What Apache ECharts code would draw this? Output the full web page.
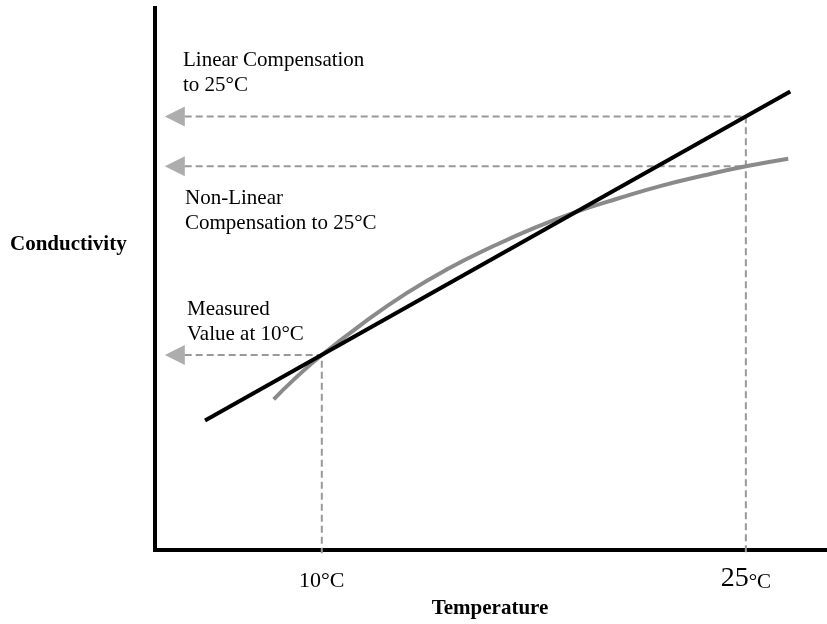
<!DOCTYPE html>
<html>
<head>
<meta charset="utf-8">
<script src="https://cdn.jsdelivr.net/npm/echarts@6/dist/echarts.min.js"></script>
<style>
html,body{margin:0;padding:0;background:#fff;}
#chart{width:827px;height:624px;}
</style>
</head>
<body>
<div id="chart"></div>
<script>
// ---- data ----
const tickValues = [10, 25];
const tickLabels = ['10°C', '25°C'];
const linearT = [5.87, 26.57];
const linearC = [23.9, 84.6];
const curveT = [8.3, 9, 10, 11.5, 13, 14.5, 16, 17.5, 19, 20.5, 22, 23.5, 25, 26.5];
const curveC = [27.8, 31.4, 36, 42.0, 47.4, 52.0, 55.9, 59.4, 62.4, 64.9, 67.2, 69.1, 70.8, 72.2];
const measuredT = 10;
const referenceT = 25;
const measuredC = 36;
const linearAtRef = 80;
const nonLinearAtRef = 70.8;
const annotationTexts = ['Linear Compensation\nto 25°C', 'Non-Linear\nCompensation to 25°C', 'Measured\nValue at 10°C'];

// guide anchor (arrow location, in temperature units)
const arrowT = 4.8;
const guideStartT = 5.15;
const axisBottomC = -0.6;

const chart = echarts.init(document.getElementById('chart'));
const grey = '#999999';
const font = '"Liberation Serif", "Times New Roman", serif';

const dashed = { color: grey, width: 2, type: [7, 4] };
function guide(data) {
  return { type: 'line', data: data, symbol: 'none', clip: false, silent: true,
    lineStyle: dashed, z: 2 };
}

const option = {
  animation: false,
  backgroundColor: '#fff',
  grid: { left: 155, right: 2, top: 8, bottom: 69 },
  xAxis: {
    type: 'value', min: 4.1, max: 27.8,
    splitLine: { show: false },
    axisTick: { show: false },
    axisLine: { onZero: false, lineStyle: { color: '#000', width: 4, cap: 'square' } },
    axisLabel: {
      customValues: tickValues,
      margin: 20,
      color: '#000',
      fontFamily: font,
      formatter: function (v) {
        const s = tickLabels[tickValues.indexOf(v)];
        if (v === referenceT) {
          return '{big|' + s.replace('°C', '') + '}{small|°C}';
        }
        return '{norm|' + s + '}';
      },
      rich: {
        big: { fontSize: 28, fontFamily: font, color: '#000', verticalAlign: 'bottom', lineHeight: 23 },
        small: { fontSize: 21, fontFamily: font, color: '#000', verticalAlign: 'bottom', lineHeight: 12 },
        norm: { fontSize: 22, fontFamily: font, color: '#000', verticalAlign: 'bottom', lineHeight: 22 }
      }
    },
    name: 'Temperature',
    nameLocation: 'middle',
    nameGap: 44,
    nameTextStyle: { fontFamily: font, fontSize: 21, fontWeight: 'bold', color: '#000' }
  },
  yAxis: {
    type: 'value', min: 0, max: 100,
    splitLine: { show: false },
    axisTick: { show: false },
    axisLabel: { show: false },
    axisLine: { onZero: false, lineStyle: { color: '#000', width: 4, cap: 'square' } }
  },
  graphic: [
    { type: 'text', left: 10, top: 234, style: { text: 'Conductivity', font: 'bold 21px ' + font, fill: '#000' } },
    { type: 'text', left: 183, top: 48, style: { text: annotationTexts[0], font: '21px ' + font, fill: '#000', lineHeight: 25 } },
    { type: 'text', left: 185, top: 186, style: { text: annotationTexts[1], font: '21px ' + font, fill: '#000', lineHeight: 25 } },
    { type: 'text', left: 187, top: 297, style: { text: annotationTexts[2], font: '21px ' + font, fill: '#000', lineHeight: 25 } }
  ],
  series: [
    guide([[guideStartT, linearAtRef], [referenceT, linearAtRef], [referenceT, axisBottomC]]),
    guide([[guideStartT, nonLinearAtRef], [referenceT, nonLinearAtRef]]),
    guide([[guideStartT, measuredC], [measuredT, measuredC], [measuredT, axisBottomC]]),
    {
      type: 'scatter', silent: true, z: 3,
      data: [[arrowT, linearAtRef], [arrowT, nonLinearAtRef], [arrowT, measuredC]],
      symbol: 'triangle', symbolSize: [20, 20], symbolRotate: 90,
      itemStyle: { color: grey }
    },
    {
      type: 'line', silent: true, z: 4,
      data: curveT.map((t, i) => [t, curveC[i]]),
      smooth: 0.5, symbol: 'none',
      lineStyle: { color: '#8a8a8a', width: 4 }
    },
    {
      type: 'line', silent: true, z: 5,
      data: linearT.map((t, i) => [t, linearC[i]]),
      symbol: 'none',
      lineStyle: { color: '#000', width: 4 }
    }
  ]
};
chart.setOption(option);
</script>
</body>
</html>
